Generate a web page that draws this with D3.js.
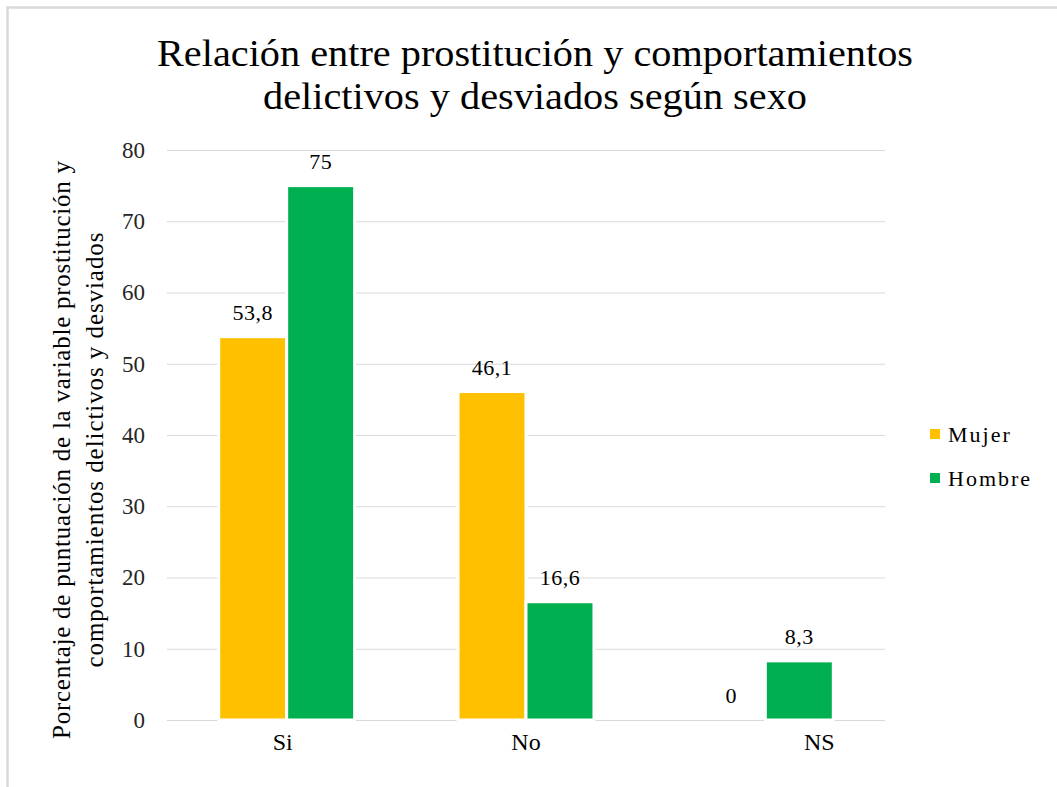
<!DOCTYPE html>
<html lang="es">
<head>
  <meta charset="UTF-8">
  <title>Relación entre prostitución y comportamientos</title>
  <script src="https://d3js.org/d3.v7.min.js"></script>
  <style>
    body { margin: 0; background: #fff; }
    svg text { font-family: "Liberation Serif", "DejaVu Serif", serif !important; }
    .grid line { stroke: #d9d9d9; stroke-width: 1.2; }
  </style>
</head>
<body>
  <script>
    const categories = ["Si", "No", "NS"];
    const series = ["Mujer", "Hombre"];
    const mujer = [53.8, 46.1, 0];
    const hombre = [75, 16.6, 8.3];
    const yTicks = [0, 10, 20, 30, 40, 50, 60, 70, 80];
    const colors = { Mujer: "#FFC000", Hombre: "#00B050" };

    const W = 1057, H = 787;
    const margin = { top: 150, right: 172, bottom: 67, left: 167 };
    const iw = W - margin.left - margin.right;
    const ih = H - margin.top - margin.bottom;

    const rows = categories.map((c, i) => ({ cat: c, Mujer: mujer[i], Hombre: hombre[i] }));

    const svg = d3.select("body").append("svg")
      .attr("width", W)
      .attr("height", H);

    // outer frame
    svg.append("rect")
      .attr("x", 7.5).attr("y", 7.5)
      .attr("width", W + 20).attr("height", H + 20)
      .attr("fill", "none")
      .attr("stroke", "#d9d9d9")
      .attr("stroke-width", 2.5);

    // title
    const titleLines = ["Relación entre prostitución y comportamientos", "delictivos y desviados según sexo"];
    const titleWidths = [756, 544];
    svg.append("g").selectAll("text")
      .data(titleLines)
      .join("text")
      .attr("x", 535)
      .attr("y", (d, i) => 66 + i * 43)
      .attr("text-anchor", "middle")
      .attr("font-size", 38)
      .attr("fill", "#000")
      .attr("textLength", (d, i) => titleWidths[i])
      .attr("lengthAdjust", "spacingAndGlyphs")
      .text(d => d);

    const g = svg.append("g").attr("transform", `translate(${margin.left},${margin.top})`);

    const x0 = d3.scaleBand().domain(categories).range([0, iw]).paddingInner(0.432).paddingOuter(0.216);
    const x1 = d3.scaleBand().domain(series).range([0, x0.bandwidth()]);
    const y = d3.scaleLinear().domain([0, 80]).range([ih, 0]);

    // gridlines
    g.append("g")
      .attr("class", "grid")
      .call(d3.axisLeft(y).tickValues(yTicks).tickSize(-iw).tickFormat(""))
      .call(s => s.select(".domain").remove());

    // y tick labels
    g.append("g")
      .call(d3.axisLeft(y).tickValues(yTicks).tickSize(0).tickPadding(22))
      .call(s => s.select(".domain").remove())
      .selectAll("text")
      .attr("font-size", 23)
      .attr("fill", "#262626");

    // bars
    const groups = g.append("g").selectAll("g")
      .data(rows)
      .join("g")
      .attr("transform", d => `translate(${x0(d.cat)},0)`);

    groups.selectAll("rect")
      .data(d => series.map(k => ({ key: k, value: d[k] })))
      .join("rect")
      .attr("x", d => x1(d.key))
      .attr("y", d => y(d.value))
      .attr("width", x1.bandwidth())
      .attr("height", d => ih - y(d.value))
      .attr("fill", d => colors[d.key])
      .attr("stroke", "#fff")
      .attr("stroke-width", d => d.value > 0 ? 3 : 0);

    // value labels
    const fmt = v => String(v).replace(".", ",");
    groups.selectAll("text")
      .data(d => series.map(k => ({ key: k, value: d[k] })))
      .join("text")
      .attr("x", d => x1(d.key) + x1.bandwidth() / 2)
      .attr("y", d => y(d.value) - 17)
      .attr("text-anchor", "middle")
      .attr("font-size", 22)
      .attr("letter-spacing", 0.5)
      .attr("fill", "#000")
      .text(d => fmt(d.value));

    // x axis labels
    g.append("g")
      .attr("transform", `translate(0,${ih})`)
      .call(d3.axisBottom(x0).tickSize(0).tickPadding(13))
      .call(s => s.select(".domain").remove())
      .selectAll("text")
      .attr("font-size", 24)
      .attr("fill", "#000")
      .attr("dx", (d, i) => i === categories.length - 1 ? 54 : (i === 0 ? -4 : 0));

    // y axis title
    const yTitle = ["Porcentaje de puntuación de la variable prostitución y", "comportamientos delictivos y desviados"];
    const yTitleLengths = [578, 435];
    svg.append("g").selectAll("text")
      .data(yTitle)
      .join("text")
      .attr("transform", (d, i) => `translate(${70 + i * 33},450) rotate(-90)`)
      .attr("text-anchor", "middle")
      .attr("font-size", 25)
      .attr("fill", "#000")
      .attr("textLength", (d, i) => yTitleLengths[i])
      .attr("lengthAdjust", "spacing")
      .text(d => d);

    // legend
    const legend = svg.append("g").attr("transform", "translate(930,434)");
    const li = legend.selectAll("g")
      .data(series)
      .join("g")
      .attr("transform", (d, i) => `translate(0,${i * 44})`);
    li.append("rect")
      .attr("x", 0).attr("y", -5)
      .attr("width", 10).attr("height", 10)
      .attr("fill", d => colors[d]);
    li.append("text")
      .attr("x", 18)
      .attr("dy", "0.35em")
      .attr("font-size", 22)
      .attr("letter-spacing", 2)
      .attr("fill", "#000")
      .text(d => d);
  </script>
</body>
</html>
